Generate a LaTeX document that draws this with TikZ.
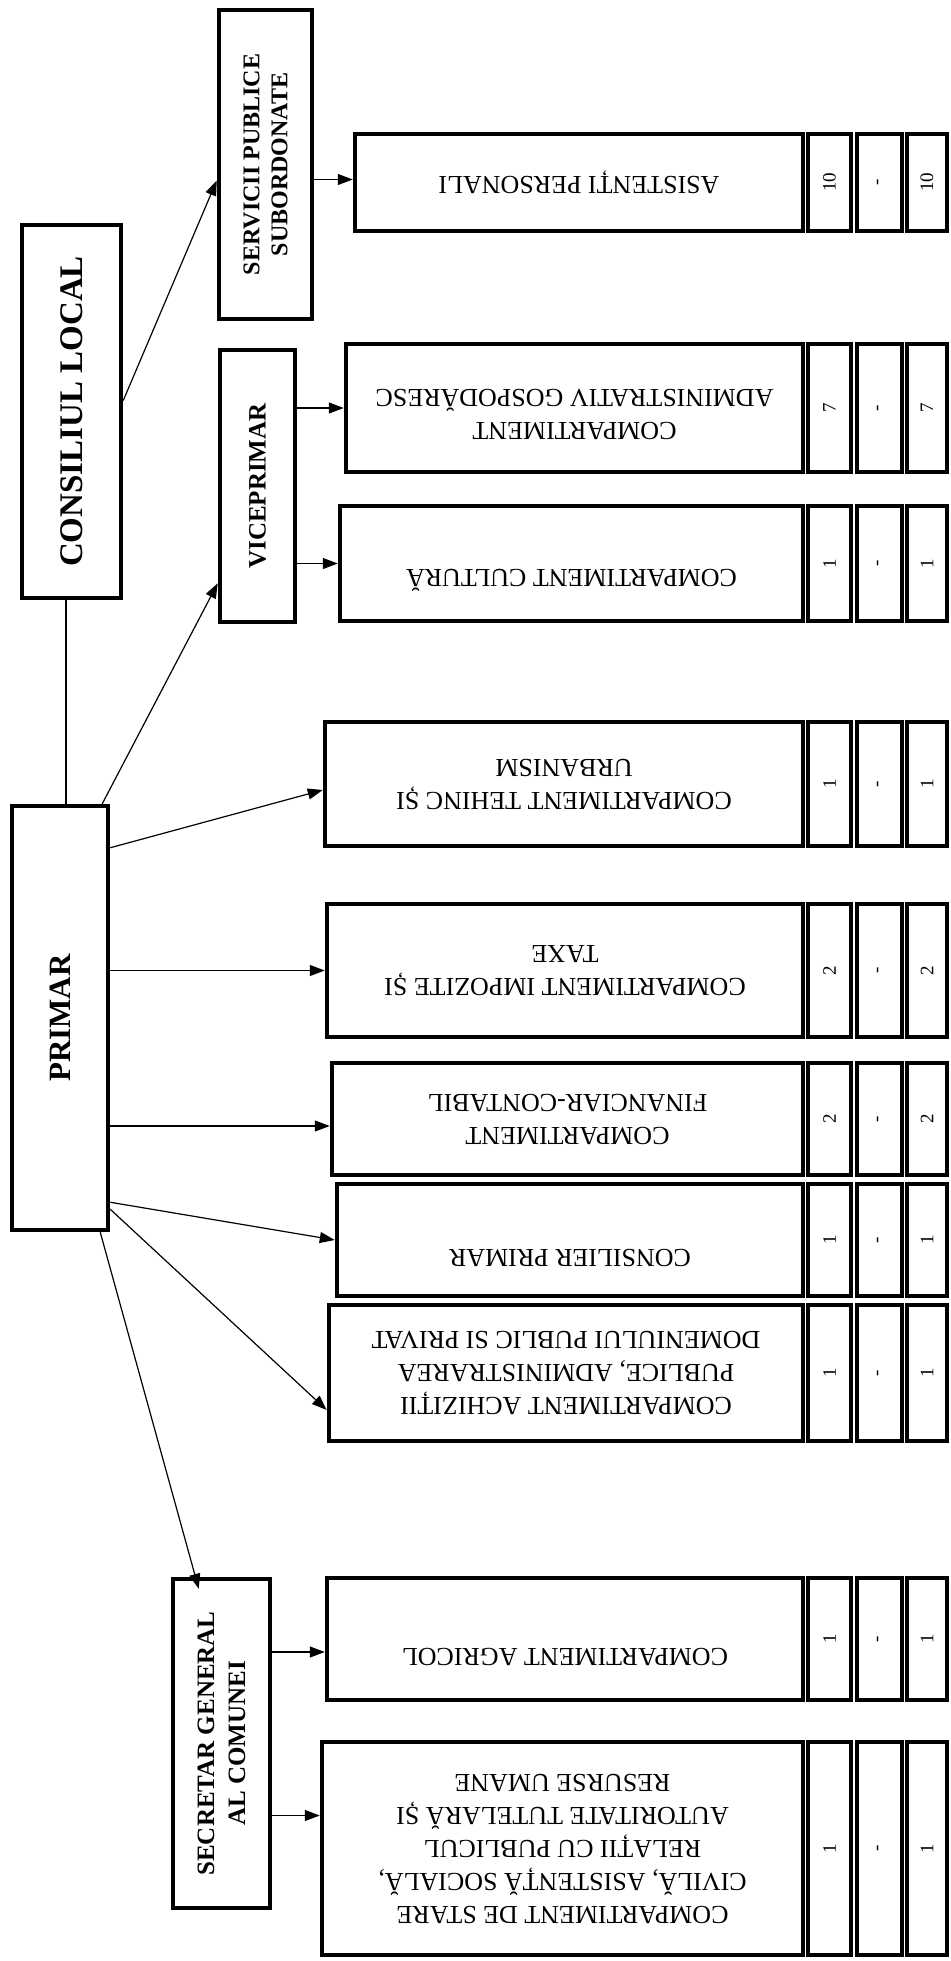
\documentclass[tikz,border=0pt]{standalone}
\usepackage{fontspec}
\setmainfont{Liberation Serif}
\usetikzlibrary{arrows.meta,calc}
\tikzset{
  box/.style={draw, rectangle, line width=4.5pt, inner sep=0pt, fill=white},
  dtext/.style={rotate=180, align=center, inner sep=0pt, font=\fontsize{26}{33}\selectfont},
  num/.style={rotate=90, inner sep=0pt, font=\fontsize{19}{19}\selectfont},
  mlab/.style={rotate=90, align=center, inner sep=0pt},
  ln/.style={line width=1.2pt},
  arr/.style={line width=1.2pt, -{Triangle[length=15pt,width=11pt]}}
}
% name, left, top, bottom, text, text offset, n1, n2, n3
\newcommand\deptbox[9]{%
  \node[box, minimum width={(803-#2)*1pt}, minimum height={(#4-#3)*1pt}] (#1) at ({(#2+803)/2},{(#3+#4)/2}) {};
  \node[dtext] (#1t) at ({(#2+803)/2},{(#3+#4)/2+#6}) {#5};
  \node[box, minimum width=43pt, minimum height={(#4-#3)*1pt}] (#1a) at (829.5,{(#3+#4)/2}) {};
  \node[box, minimum width=45pt, minimum height={(#4-#3)*1pt}] (#1b) at (879.5,{(#3+#4)/2}) {};
  \node[box, minimum width=40pt, minimum height={(#4-#3)*1pt}] (#1c) at (927,{(#3+#4)/2}) {};
  \node[num] (#1an) at (#1a) {#7};
  \node[num] (#1bn) at (#1b) {#8};
  \node[num] (#1cn) at (#1c) {#9};
}
\begin{document}
\begin{tikzpicture}[x=1pt,y=-1pt]
\useasboundingbox[fill=white] (0,0) rectangle (950,1961);

% main boxes
\node[box, minimum width=99pt, minimum height=373pt] (cons) at (71.5,411.5) {};
\node[mlab, font=\fontsize{33}{36}\selectfont\bfseries] (const) at (cons) {CONSILIUL LOCAL};
\node[box, minimum width=96pt, minimum height=424pt] (primar) at (60,1018) {};
\node[mlab, font=\fontsize{31}{36}\selectfont\bfseries] (primart) at (primar) {PRIMAR};
\node[box, minimum width=75pt, minimum height=272pt] (vice) at (257.5,486) {};
\node[mlab, font=\fontsize{25}{30}\selectfont\bfseries] (vicet) at (vice) {VICEPRIMAR};
\node[box, minimum width=93pt, minimum height=309pt] (serv) at (265.5,164.5) {};
\node[mlab, font=\fontsize{24}{28}\selectfont\bfseries] (servt) at (serv) {SERVICII PUBLICE\\SUBORDONATE};
\node[box, minimum width=97pt, minimum height=329pt] (secr) at (221.5,1743.5) {};
\node[mlab, font=\fontsize{25}{31}\selectfont\bfseries] (secrt) at (secr) {SECRETAR GENERAL\\AL COMUNEI};

% departments
\deptbox{d1}{355}{134}{231}{ASISTENȚI PERSONALI}{0}{10}{-}{10}
\deptbox{d2}{346}{344}{472}{COMPARTIMENT\\ADMINISTRATIV GOSPODĂRESC}{6}{7}{-}{7}
\deptbox{d3}{340}{506}{621}{COMPARTIMENT CULTURĂ}{17}{1}{-}{1}
\deptbox{d4}{325}{722}{846}{COMPARTIMENT TEHINC ȘI\\URBANISM}{0}{1}{-}{1}
\deptbox{d5}{327}{904}{1037}{COMPARTIMENT IMPOZITE ȘI\\TAXE}{0}{2}{-}{2}
\deptbox{d6}{332}{1063}{1175}{COMPARTIMENT\\FINANCIAR-CONTABIL}{0}{2}{-}{2}
\deptbox{d7}{337}{1184}{1296}{CONSILIER PRIMAR}{18}{1}{-}{1}
\deptbox{d8}{329}{1305}{1441}{COMPARTIMENT ACHIZIȚII\\PUBLICE, ADMINISTRAREA\\DOMENIULUI PUBLIC SI PRIVAT}{0}{1}{-}{1}
\deptbox{d9}{327}{1578}{1700}{COMPARTIMENT AGRICOL}{18}{1}{-}{1}
\deptbox{d10}{322}{1742}{1955}{COMPARTIMENT DE STARE\\CIVILĂ, ASISTENȚĂ SOCIALĂ,\\RELAȚII CU PUBLICUL\\AUTORITATE TUTELARĂ ȘI\\RESURSE UMANE}{0}{1}{-}{1}

% connectors
\draw[ln] ($(cons.south)+(-5.5,0)$) -- ($(primar.north)+(6,0)$);
\draw[arr] ($(cons.east)+(0,-11)$) -- ($(serv.west)+(0,16)$);
\draw[arr] ($(serv.east)+(0,15)$) -- ($(d1.west)+(0,-3)$);
\draw[arr] ($(primar.north east)+(-8,0)$) -- ($(vice.south west)+(0,-41)$);
\draw[arr] (vice.east |- d2.west) -- (d2.west);
\draw[arr] (vice.east |- d3.west) -- (d3.west);
\draw[arr] ($(primar.north east)+(0,44)$) -- ($(d4.west)+(0,6)$);
\draw[arr] (primar.east |- d5.west) -- (d5.west);
\draw[arr] ($(primar.east |- d6.west)+(0,7)$) -- ($(d6.west)+(0,7)$);
\draw[arr] ($(primar.south east)+(0,-30)$) -- (d7.west);
\draw[arr] ($(primar.south east)+(0,-23)$) -- ($(d8.west)+(0,37)$);
\draw[arr] ($(primar.south east)+(-10,0)$) -- ($(secr.north west)+(28,12)$);
\draw[arr] ($(secr.east |- d9.west)+(0,13)$) -- ($(d9.west)+(0,13)$);
\draw[arr] ($(secr.east |- d10.west)+(0,-33)$) -- ($(d10.west)+(0,-33)$);
\end{tikzpicture}
\end{document}
